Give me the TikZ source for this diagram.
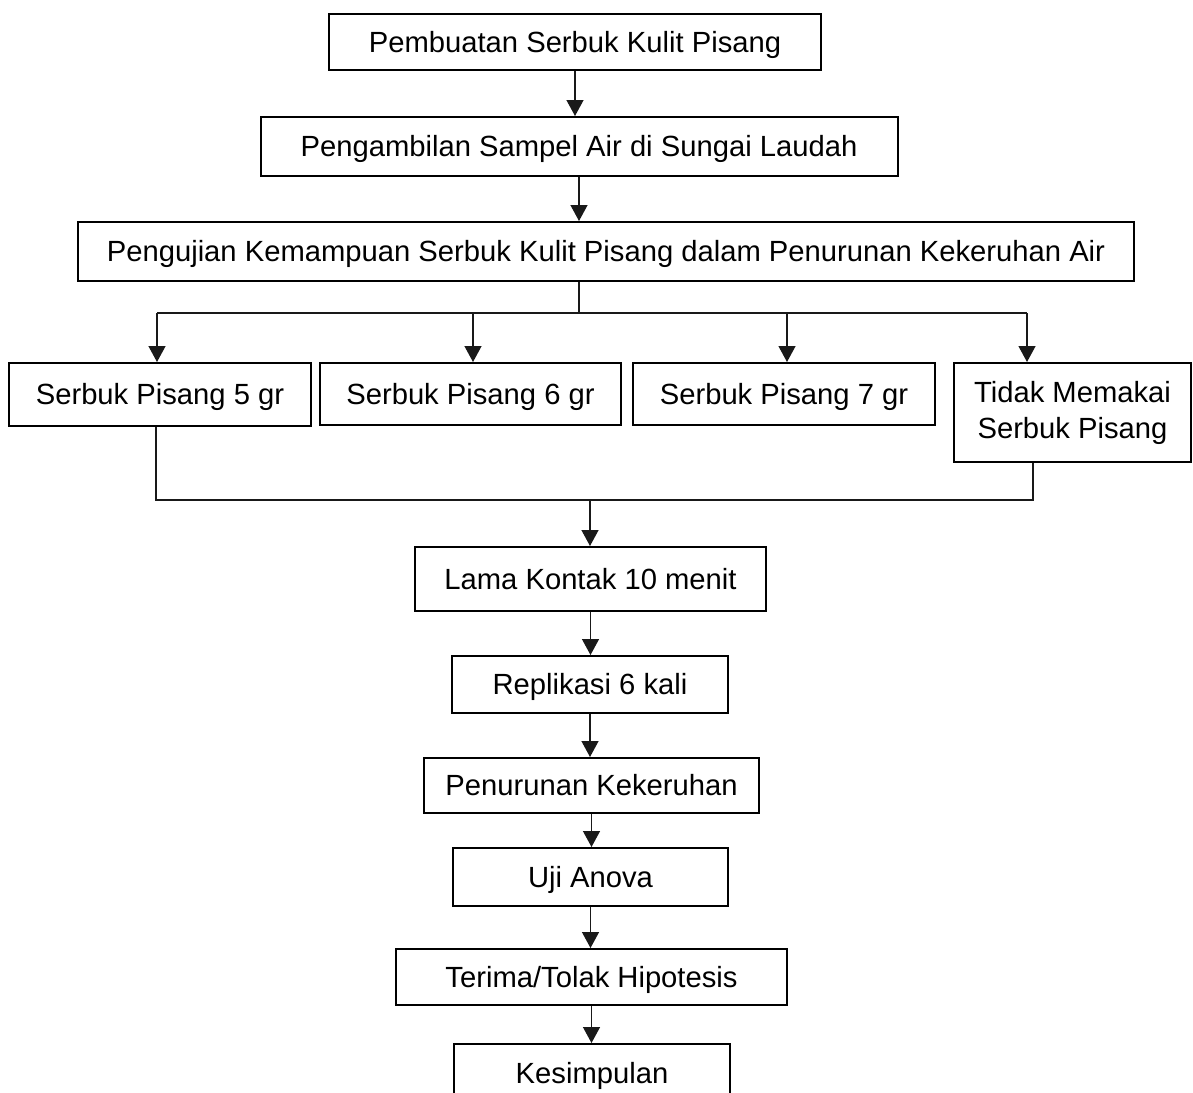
\documentclass[tikz,border=0pt]{standalone}
\usepackage{fontspec}
\setmainfont{Liberation Sans}
\usetikzlibrary{arrows.meta}
\begin{document}
\begin{tikzpicture}[x=1pt,y=-1pt,
  box/.style={draw=black, line width=2pt, fill=white, inner sep=0pt,
    font=\fontsize{29.2}{36}\selectfont, text height=20.9pt, text depth=0pt},
  box2/.style={draw=black, line width=2pt, fill=white, inner sep=0pt, align=center,
    font=\fontsize{29.2}{36}\selectfont},
  conn/.style={line width=1.3pt, draw=black!90},
  arr/.style={conn, -{Triangle[width=17pt,length=16pt]}}]
\fill[white] (0,0) rectangle (1193,1092);
\useasboundingbox (0,0) rectangle (1193,1092);

\node[box, minimum width=492pt, minimum height=56pt] (b1) at (575,42) {Pembuatan Serbuk Kulit Pisang};
\node[box, minimum width=637pt, minimum height=59pt] (b2) at (579,146.5) {Pengambilan Sampel Air di Sungai Laudah};
\node[box, minimum width=1056pt, minimum height=59pt] (b3) at (606,251.5) {Pengujian Kemampuan Serbuk Kulit Pisang dalam Penurunan Kekeruhan Air};

\node[box, minimum width=302pt, minimum height=63pt] (b5) at (160,394.5) {Serbuk Pisang 5 gr};
\node[box, minimum width=301pt, minimum height=62pt] (b6) at (470.5,394) {Serbuk Pisang 6 gr};
\node[box, minimum width=302pt, minimum height=62pt] (b7) at (784,394) {Serbuk Pisang 7 gr};
\node[box2, minimum width=237pt, minimum height=99pt] (b8) at (1072.5,412.5) {Tidak Memakai\\Serbuk Pisang};

\node[box, minimum width=351pt, minimum height=64pt] (lama) at (590.5,579) {Lama Kontak 10 menit};
\node[box, minimum width=276pt, minimum height=57pt] (repl) at (590,684.5) {Replikasi 6 kali};
\node[box, minimum width=335pt, minimum height=55pt] (pen) at (591.5,785.5) {Penurunan Kekeruhan};
\node[box, minimum width=275pt, minimum height=58pt] (uji) at (590.5,877) {Uji Anova};
\node[box, minimum width=391pt, minimum height=56pt] (ter) at (591.5,977) {Terima/Tolak Hipotesis};
\node[box, minimum width=276pt, minimum height=58pt] (kes) at (592,1073) {Kesimpulan};

% top chain
\draw[arr] (b1.south) -- (b1.south |- b2.north);
\draw[arr] (b2.south) -- (b2.south |- b3.north);

% branch
\coordinate (split) at (579,313);
\coordinate (t5) at (157,313);
\coordinate (t6) at (473,313);
\coordinate (t7) at (787,313);
\coordinate (t8) at (1027,313);
\draw[conn] (b3.south -| split) -- (split);
\draw[conn] (t5) -- (t8);
\draw[arr] (t5) -- (t5 |- b5.north);
\draw[arr] (t6) -- (t6 |- b6.north);
\draw[arr] (t7) -- (t7 |- b7.north);
\draw[arr] (t8) -- (t8 |- b8.north);

% merge
\coordinate (m5) at (156,500);
\coordinate (m8) at (1033,500);
\coordinate (mc) at (590,500);
\draw[conn] (b5.south -| m5) -- (m5) -- (m8) -- (b8.south -| m8);
\draw[arr] (mc) -- (mc |- lama.north);

% lower chain
\draw[arr] (lama.south) -- (lama.south |- repl.north);
\draw[arr] (repl.south) -- (repl.south |- pen.north);
\draw[arr] (pen.south) -- (pen.south |- uji.north);
\draw[arr] (uji.south) -- (uji.south |- ter.north);
\draw[arr] (ter.south) -- (ter.south |- kes.north);
\end{tikzpicture}
\end{document}
